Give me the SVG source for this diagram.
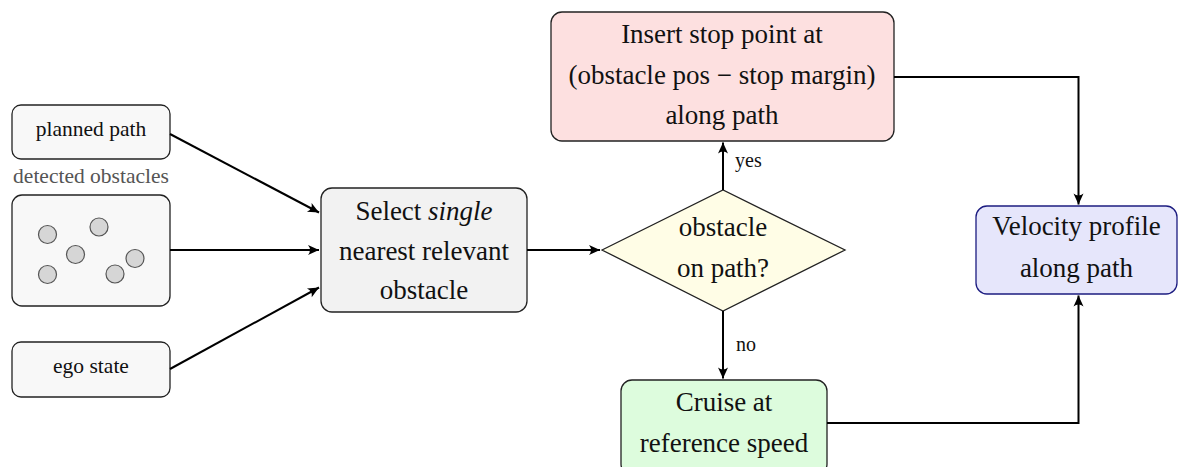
<svg xmlns="http://www.w3.org/2000/svg" width="1179" height="467" viewBox="0 0 1179 467" font-family="'Liberation Serif', 'Times New Roman', serif">
<defs>
<marker id="arr" viewBox="-12 -6 14 12" refX="0" refY="0" markerWidth="14" markerHeight="12" markerUnits="userSpaceOnUse" orient="auto">
<path d="M0,0 L-11,-5 Q-7,0 -11,5 Z" fill="#000"/>
</marker>
<style>
text{font-family:"Liberation Serif","Times New Roman",serif;fill:#111;text-anchor:middle}
.big{font-size:27px}
.small{font-size:21.5px}
.lbl{font-size:20px;text-anchor:start}
.inp{fill:#f8f8f8;stroke:#222;stroke-width:1.3}
.conn{fill:none;stroke:#000;stroke-width:2}
</style>
</defs>
<rect width="1179" height="467" fill="#fff"/>

<g id="planned_path">
<rect class="inp" x="12" y="105" width="158" height="54" rx="9"/>
<text class="small" x="91" y="136">planned path</text>
</g>

<g id="detected_obstacles">
<text class="small" x="91" y="183" style="fill:#555">detected obstacles</text>
<rect class="inp" x="12" y="195" width="158" height="111" rx="10"/>
<g fill="#d6d6d6" stroke="#555" stroke-width="1.2">
<circle cx="47.5" cy="234.5" r="9"/>
<circle cx="99" cy="227" r="9"/>
<circle cx="75.5" cy="254.5" r="9"/>
<circle cx="135" cy="258.5" r="9"/>
<circle cx="47.5" cy="274.5" r="9"/>
<circle cx="115" cy="274" r="9"/>
</g>
</g>

<g id="ego_state">
<rect class="inp" x="12" y="342" width="158" height="55" rx="9"/>
<text class="small" x="91" y="373">ego state</text>
</g>

<g id="select">
<rect x="321" y="188" width="206" height="124" rx="11" fill="#f2f2f2" stroke="#222" stroke-width="1.3"/>
<text class="big" x="424" y="220">Select <tspan font-style="italic">single</tspan></text>
<text class="big" x="424" y="260">nearest relevant</text>
<text class="big" x="424" y="299">obstacle</text>
</g>

<g id="decision">
<polygon points="602,250 723,190 845,250 723,311" fill="#fffde6" stroke="#222" stroke-width="1.3"/>
<text class="big" x="723" y="236">obstacle</text>
<text class="big" x="723" y="277">on path?</text>
</g>

<g id="stop_point">
<rect x="551" y="12" width="343" height="129" rx="11" fill="#fde0e0" stroke="#222" stroke-width="1.3"/>
<text class="big" x="722" y="43">Insert stop point at</text>
<text class="big" x="722" y="84">(obstacle pos − stop margin)</text>
<text class="big" x="722" y="124">along path</text>
</g>

<g id="cruise">
<rect x="621" y="380" width="206" height="95" rx="11" fill="#ddfcdd" stroke="#222" stroke-width="1.3"/>
<text class="big" x="724" y="411">Cruise at</text>
<text class="big" x="724" y="452">reference speed</text>
</g>

<g id="velocity_profile">
<rect x="976" y="206" width="201" height="88" rx="11" fill="#e6e6fb" stroke="#1c1c80" stroke-width="1.3"/>
<text class="big" x="1076.5" y="235">Velocity profile</text>
<text class="big" x="1076.5" y="277">along path</text>
</g>

<g id="connectors">
<line class="conn" x1="170" y1="134" x2="319" y2="212.5" marker-end="url(#arr)"/>
<line class="conn" x1="170" y1="250" x2="319" y2="250" marker-end="url(#arr)"/>
<line class="conn" x1="170" y1="369" x2="319" y2="287.5" marker-end="url(#arr)"/>
<line class="conn" x1="527" y1="250" x2="600" y2="250" marker-end="url(#arr)"/>
<line class="conn" x1="723" y1="190" x2="723" y2="142.5" marker-end="url(#arr)"/>
<text class="lbl" x="735" y="167">yes</text>
<line class="conn" x1="723" y1="311" x2="723" y2="378.5" marker-end="url(#arr)"/>
<text class="lbl" x="736" y="351">no</text>
<polyline class="conn" points="894,77 1078.5,77 1078.5,204.5" marker-end="url(#arr)"/>
<polyline class="conn" points="827,423 1078.5,423 1078.5,295.5" marker-end="url(#arr)"/>
</g>
</svg>
